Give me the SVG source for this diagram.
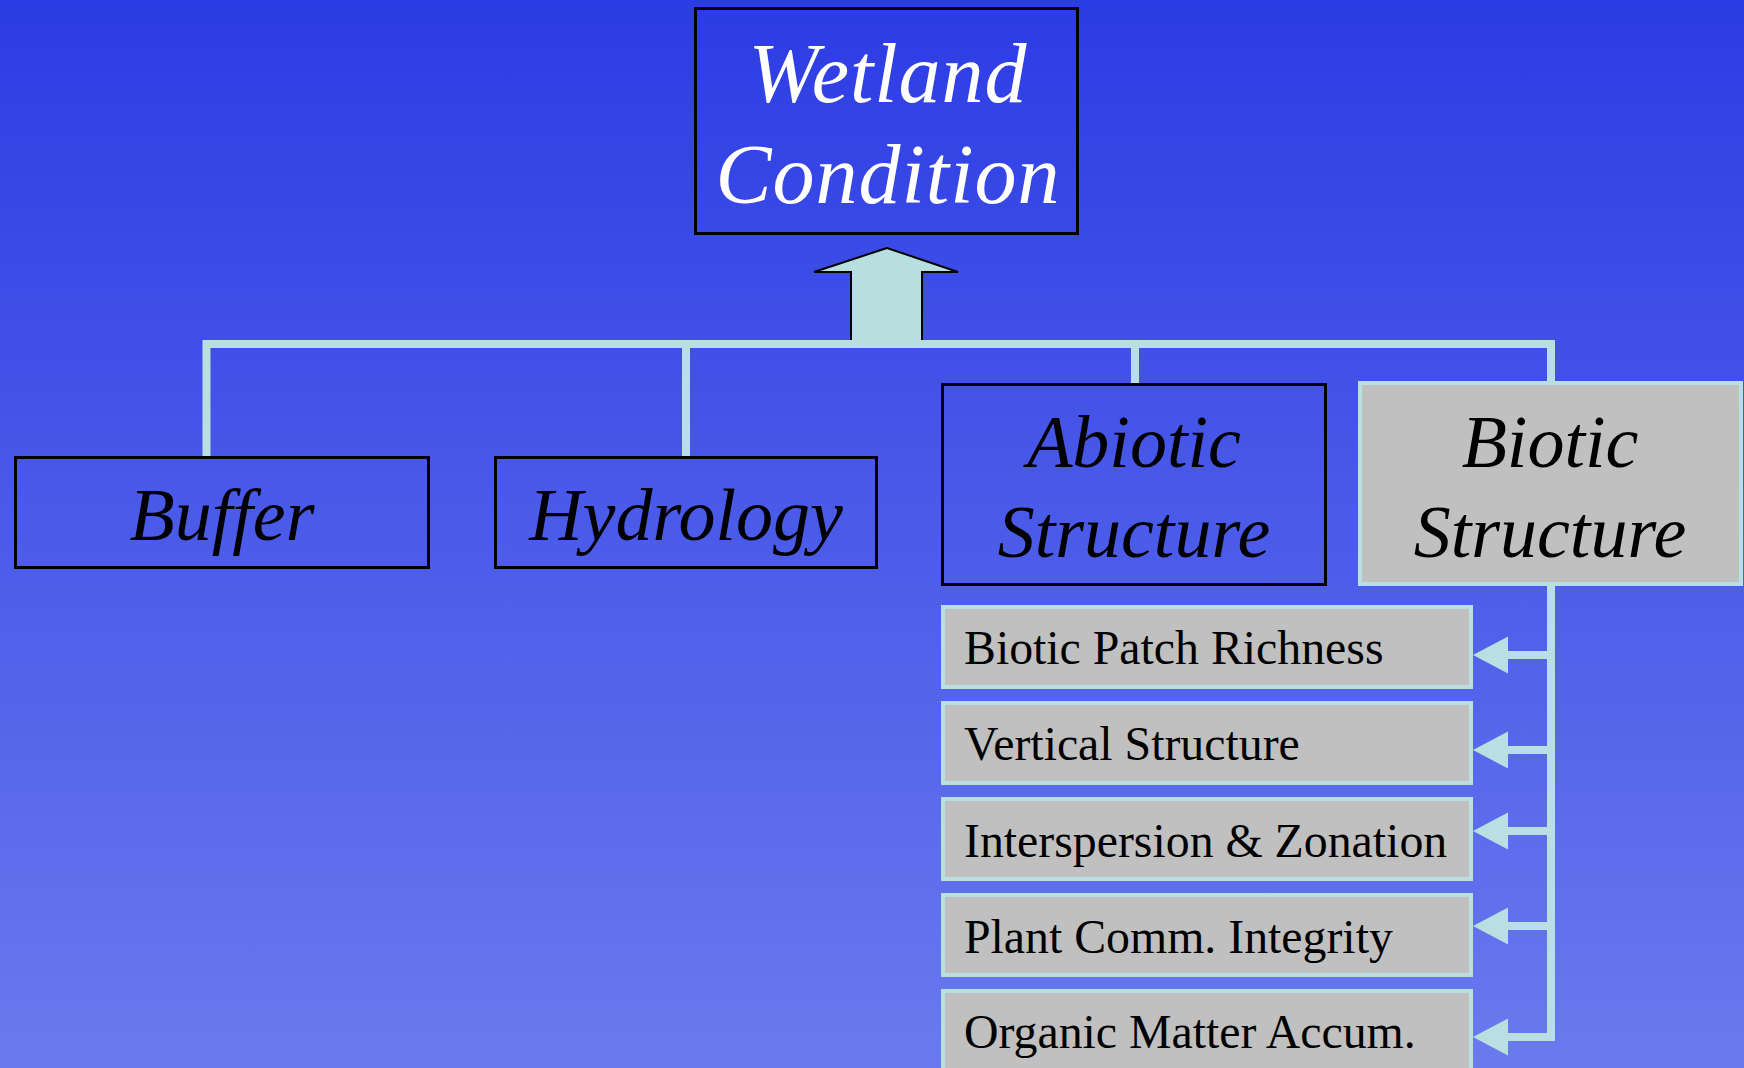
<svg xmlns="http://www.w3.org/2000/svg" width="1744" height="1068" viewBox="0 0 1744 1068">
<defs>
<linearGradient id="bg" x1="0" y1="0" x2="0" y2="1">
<stop offset="0" stop-color="#2c3ce4"/>
<stop offset="1" stop-color="#6a7aee"/>
</linearGradient>
<style>
.main{fill:none;stroke:#000;stroke-width:3}
.gray{fill:#c0c0c0;stroke:#b8e0e2;stroke-width:4}
.conn{fill:none;stroke:#b8e0e2;stroke-width:8;stroke-linecap:square;stroke-linejoin:miter}
.head{fill:#b8e0e2}
.big{font-family:"Liberation Serif","Times New Roman",serif;font-style:italic;text-anchor:middle}
.small{font-family:"Liberation Serif","Times New Roman",serif;font-size:47.8px;fill:#000}
</style>
</defs>
<rect x="0" y="0" width="1744" height="1068" fill="url(#bg)"/>

<g id="connectors">
<polygon points="887,248 814,272 851,272 851,344 922,344 922,272 958,272" fill="#b8dfe0" stroke="#000" stroke-width="2"/>
<path class="conn" d="M206.5,454 V344 H1551 V381 M686,344 V454 M1135,344 V381"/>
<path class="conn" d="M1551,588 V1037 H1508 M1551,655 H1508 M1551,750 H1508 M1551,831 H1508 M1551,926 H1508"/>
<polygon class="head" points="1473,655 1508,636.5 1508,673.5"/>
<polygon class="head" points="1473,750 1508,731.5 1508,768.5"/>
<polygon class="head" points="1473,831 1508,812.5 1508,849.5"/>
<polygon class="head" points="1473,926 1508,907.5 1508,944.5"/>
<polygon class="head" points="1473,1037 1508,1018.5 1508,1055.5"/>
</g>

<g id="wetland-condition">
<rect class="main" x="695.5" y="8.5" width="382" height="225"/>
<text class="big" x="888" y="102" font-size="84" letter-spacing="1" fill="#fff">Wetland</text>
<text class="big" x="888" y="203" font-size="84" letter-spacing="1" fill="#fff">Condition</text>
</g>

<g id="buffer">
<rect class="main" x="15.5" y="457.5" width="413" height="110"/>
<text class="big" x="222" y="540" font-size="74" fill="#000">Buffer</text>
</g>

<g id="hydrology">
<rect class="main" x="495.5" y="457.5" width="381" height="110"/>
<text class="big" x="686" y="540" font-size="74" fill="#000">Hydrology</text>
</g>

<g id="abiotic-structure">
<rect class="main" x="942.5" y="384.5" width="383" height="200"/>
<text class="big" x="1134" y="467" font-size="74" fill="#000">Abiotic</text>
<text class="big" x="1134" y="557" font-size="74" fill="#000">Structure</text>
</g>

<g id="biotic-structure">
<rect class="gray" x="1360" y="383" width="381" height="201"/>
<text class="big" x="1550" y="467" font-size="74" fill="#000">Biotic</text>
<text class="big" x="1550" y="557" font-size="74" fill="#000">Structure</text>
</g>

<g id="biotic-patch-richness">
<rect class="gray" x="943" y="607" width="528" height="80"/>
<text class="small" x="964" y="664">Biotic Patch Richness</text>
</g>

<g id="vertical-structure">
<rect class="gray" x="943" y="703" width="528" height="80"/>
<text class="small" x="964" y="760">Vertical Structure</text>
</g>

<g id="interspersion-zonation">
<rect class="gray" x="943" y="799" width="528" height="80"/>
<text class="small" x="964" y="857">Interspersion &amp; Zonation</text>
</g>

<g id="plant-comm-integrity">
<rect class="gray" x="943" y="895" width="528" height="80"/>
<text class="small" x="964" y="953">Plant Comm. Integrity</text>
</g>

<g id="organic-matter-accum">
<rect class="gray" x="943" y="991" width="528" height="100"/>
<text class="small" x="964" y="1048">Organic Matter Accum.</text>
</g>
</svg>
